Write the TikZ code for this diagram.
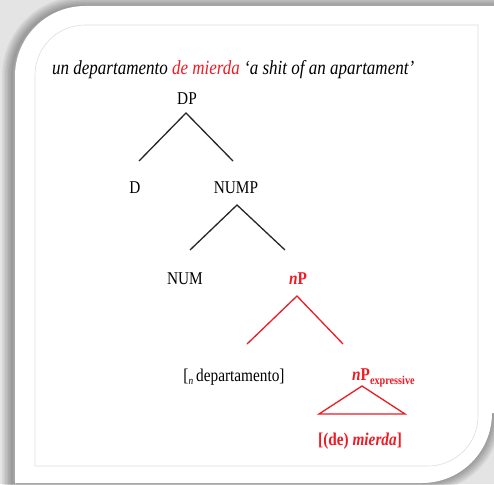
\documentclass[tikz,border=0pt]{standalone}
\usepackage{fontspec}
\setmainfont{Liberation Serif}[FakeStretch=0.85]
\definecolor{exred}{RGB}{237,28,36}
\definecolor{bggray}{RGB}{228,228,228}
\definecolor{framegray}{RGB}{222,222,222}
\tikzset{
  lbl/.style={inner sep=0pt, anchor=base, font=\fontsize{18}{20}\selectfont},
  rlbl/.style={lbl, text=exred, font=\fontsize{18}{20}\selectfont\bfseries},
  branch/.style={line width=1.3pt, black!85},
  rbranch/.style={line width=1.3pt, exred},
}
\begin{document}
\begin{tikzpicture}[x=1pt,y=-1pt]
\useasboundingbox (0,0) rectangle (494,484);
% background
\fill[bggray] (0,0) rectangle (494,484);
% soft shadow round the card
\begin{scope}
\clip (0,0) rectangle (494,484);
\foreach \w in {2,5,8,11,14,17,20} {
  \draw[black, opacity=0.05, line width=\w pt]
    (12,500) -- (12,76) arc[start angle=180, end angle=270, radius=70] -- (510,6) -- (510,413)
    -- (492,413) arc[start angle=0, end angle=90, radius=70] -- (12,483);
}
\end{scope}
% card
\fill[white] (15,490) -- (15,76) arc[start angle=180, end angle=270, radius=70] -- (494,6) -- (494,413)
  -- (492,413) arc[start angle=0, end angle=90, radius=70] -- (15,483) -- cycle;
% inner frame
\draw[framegray, line width=0.6pt]
  (35,466) -- (35,75) arc[start angle=180, end angle=270, radius=50] -- (478,25) -- (478,416)
  arc[start angle=0, end angle=90, radius=50] -- cycle;

% title
\node[inner sep=0pt, anchor=base west, font=\fontsize{20}{22}\selectfont\itshape] (title) at (52,75)
  {un departamento \textcolor{exred}{de mierda} ‘a shit of an apartament’};

% nodes
\node[lbl] (DP) at (187,104) {DP};
\node[lbl] (D) at (135,193) {D};
\node[lbl] (NUMP) at (236,193) {NUMP};
\node[lbl] (NUM) at (185,284) {NUM};
\node[rlbl] (nP) at (298,284) {\textit{n}P};
\node[lbl] (dep) at (234,381) {[\raisebox{-3pt}{\fontsize{11}{11}\selectfont\itshape n}\,departamento]};
\node[rlbl, anchor=base west] (nPe) at (352,380) {\textit{n}P\raisebox{-4pt}{\fontsize{12}{12}\selectfont\bfseries expressive}};
\node[rlbl] (mierda) at (360,445) {[(de) \textit{mierda}]};

% branch points
\coordinate (dpA) at (186,113);
\coordinate (dpL) at (139,161);
\coordinate (dpR) at (233,161);
\coordinate (numpA) at (237,205);
\coordinate (numpL) at (190,250);
\coordinate (numpR) at (285,250);
\coordinate (npA) at (297,296);
\coordinate (npL) at (247,344);
\coordinate (npR) at (343,344);
\coordinate (triA) at (362,386);
\coordinate (triL) at (319,414);
\coordinate (triR) at (405,414);

\draw[branch] (dpL) -- (dpA) -- (dpR);
\draw[branch] (numpL) -- (numpA) -- (numpR);
\draw[rbranch] (npL) -- (npA) -- (npR);
\draw[rbranch, line join=miter] (triA) -- (triL) -- (triR) -- cycle;
\end{tikzpicture}
\end{document}
